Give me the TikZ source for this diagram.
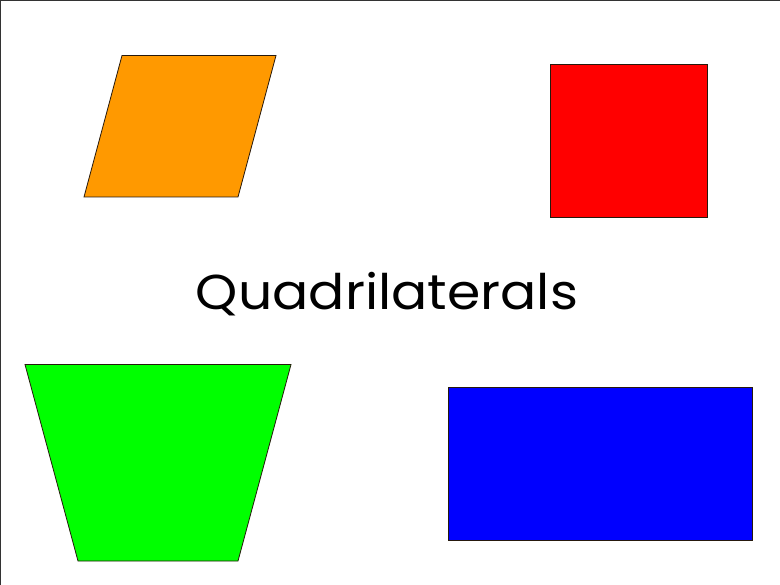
\documentclass[tikz,border=0pt]{standalone}
\usepackage{fontspec}
\setmainfont{Poppins}
\begin{document}
\begin{tikzpicture}[x=1pt,y=-1pt,
  quad/.style={draw=black!80!brown, line width=0.8pt, line join=miter},
  frame/.style={draw=black!80, line width=1.2pt}]
\useasboundingbox (0,0) rectangle (780,585);
\fill[white] (0,0) rectangle (780,585);
\draw[frame] (0,585) -- (0,0) -- (780,0);
% parallelogram
\coordinate (p1) at (122,55.5);
\coordinate (p2) at (276,55.5);
\coordinate (p3) at (238,197);
\coordinate (p4) at (84,197);
\filldraw[quad, fill={rgb,255:red,255;green,153;blue,0}] (p1) -- (p2) -- (p3) -- (p4) -- cycle;
% square
\coordinate (s1) at (550.5,64);
\coordinate (s2) at (707.5,217);
\filldraw[quad, fill={rgb,255:red,255;green,0;blue,0}] (s1) rectangle (s2);
% trapezoid
\coordinate (t1) at (25,364.5);
\coordinate (t2) at (291,364.5);
\coordinate (t3) at (238,561);
\coordinate (t4) at (78,561);
\filldraw[quad, fill={rgb,255:red,0;green,255;blue,0}] (t1) -- (t2) -- (t3) -- (t4) -- cycle;
% rectangle
\coordinate (r1) at (448.5,387);
\coordinate (r2) at (752,540);
\filldraw[quad, fill={rgb,255:red,0;green,0;blue,255}] (r1) rectangle (r2);
\node[anchor=base, inner sep=0pt, xscale=1.095, font=\fontsize{49}{60}\selectfont] (title) at (387,310) {Quadrilaterals};
\end{tikzpicture}
\end{document}
